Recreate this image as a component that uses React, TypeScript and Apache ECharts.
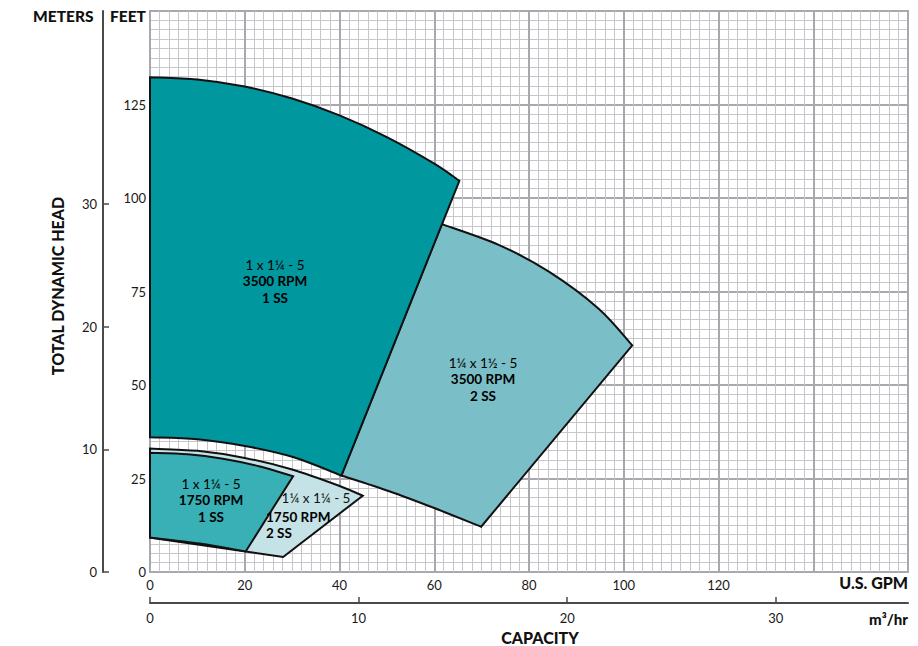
import React, { useEffect, useRef } from "react";
import * as echarts from "echarts";

// ---- Data (U.S. GPM, feet) ----
const gpmTicks = [0, 20, 40, 60, 80, 100, 120];
const feetTicks = [0, 25, 50, 75, 100, 125];
const meterTicks = [0, 10, 20, 30];
const m3hTicks = [0, 10, 20, 30];

// 1 x 1¼ - 5, 3500 RPM, 1 SS
const r1Top = [[0, 132.3], [10, 131.7], [20, 129.8], [30, 126.6], [40, 122.1], [50, 116.3], [60, 109.2], [65.3, 104.6]];
const r1Bottom = [[0, 36.0], [10, 35.5], [20, 33.7], [30, 30.8], [40.4, 25.8]];
// 1¼ x 1½ - 5, 3500 RPM, 2 SS
const r2Top = [[61.6, 93.0], [73.7, 87.4], [84.2, 80.3], [94.7, 70.4], [101.8, 60.6]];
const r2Bottom = [[40.4, 25.8], [50.5, 21.6], [60, 17.1], [69.9, 12.1]];
// 1¼ x 1¼ - 5, 1750 RPM, 2 SS
const r4Top = [[0, 33.0], [10, 32.4], [20, 30.5], [30, 27.4], [40, 23.0], [44.9, 20.4]];
const r4Bottom = [[44.9, 20.4], [28.1, 4.0], [20.2, 5.5], [0, 9.2]];
// 1 x 1¼ - 5, 1750 RPM, 1 SS
const r3Top = [[0, 31.9], [8, 31.5], [15.4, 30.3], [23, 28.3], [30.2, 25.6]];
const r3Bottom = [[0, 9.2], [10.5, 7.6], [20.2, 5.5]];

const GPM_PER_M3H = 4.40287;
const FT_PER_M = 3.28084;
const GPM_MAX = 160;
const FT_MAX = 150;

const FONT = "Lato, 'Open Sans', sans-serif";

type Seg = { pts: number[][]; curve: boolean };

function catmull(p: number[][]): string {
  let d = "";
  for (let i = 0; i < p.length - 1; i++) {
    const p0 = p[i - 1] || p[i];
    const p1 = p[i];
    const p2 = p[i + 1];
    const p3 = p[i + 2] || p[i + 1];
    const c1x = p1[0] + (p2[0] - p0[0]) / 6;
    const c1y = p1[1] + (p2[1] - p0[1]) / 6;
    const c2x = p2[0] - (p3[0] - p1[0]) / 6;
    const c2y = p2[1] - (p3[1] - p1[1]) / 6;
    d += ` C${c1x},${c1y} ${c2x},${c2y} ${p2[0]},${p2[1]}`;
  }
  return d;
}

function buildPath(segs: Seg[], api: any): string {
  let d = "";
  segs.forEach((s, idx) => {
    const px = s.pts.map((p) => api.coord(p));
    if (idx === 0) d += `M${px[0][0]},${px[0][1]}`;
    else d += ` L${px[0][0]},${px[0][1]}`;
    if (s.curve) d += catmull(px);
    else for (let i = 1; i < px.length; i++) d += ` L${px[i][0]},${px[i][1]}`;
  });
  return d + " Z";
}

const rev = (a: number[][]) => a.slice().reverse();

function regionSeries(name: string, segs: Seg[], fill: string, z: number) {
  return {
    type: "custom",
    name,
    xAxisIndex: 0,
    yAxisIndex: 0,
    z,
    silent: true,
    data: [[0, 0]],
    renderItem: (_params: any, api: any) => ({
      type: "path",
      shape: { pathData: buildPath(segs, api) },
      style: { fill, stroke: "#111", lineWidth: 2, lineJoin: "miter" },
    }),
  };
}

function txt(x: number, y: number, text: string, opts: any = {}) {
  return {
    type: "text",
    x,
    y,
    rotation: opts.rotation || 0,
    z: 100,
    silent: true,
    style: {
      text,
      fill: "#111",
      font: `${opts.weight || "normal"} ${opts.size || 14}px ${FONT}`,
      textAlign: opts.align || "center",
      textVerticalAlign: "middle",
    },
  };
}

const rich = {
  a: { fontFamily: FONT, fontSize: 13.5, fontWeight: "normal", color: "#111", lineHeight: 16.5 },
  b: { fontFamily: FONT, fontSize: 13.5, fontWeight: "bold", color: "#111", lineHeight: 16.5 },
};

function block(x: number, y: number, text: string, align = "center") {
  return {
    type: "text",
    x,
    y,
    z: 100,
    silent: true,
    style: {
      text,
      rich,
      textAlign: align,
      textVerticalAlign: "middle",
    },
  };
}

export default function App() {
  const ref = useRef<HTMLDivElement>(null);
  useEffect(() => {
    if (!ref.current) return;
    const chart = echarts.init(ref.current, undefined, { renderer: "svg" });
    const majorLine = { show: true, lineStyle: { color: "#a8a8ae", width: 2 } };
    const minorLine = { show: true, lineStyle: { color: "#c6c6cb", width: 1 } };
    const label = { fontFamily: FONT, fontSize: 13, color: "#1a1a1a" };
    chart.setOption({
      animation: false,
      backgroundColor: "#fff",
      grid: {
        left: 150,
        top: 11,
        right: 10,
        bottom: 74,
        show: true,
        borderColor: "#a8a8ae",
        borderWidth: 2,
        backgroundColor: "#fff",
      },
      xAxis: [
        {
          type: "value",
          min: 0,
          max: GPM_MAX,
          interval: 20,
          position: "bottom",
          axisLine: { show: false },
          axisTick: { show: false },
          axisLabel: {
            ...label,
            margin: 6,
            customValues: gpmTicks,
            formatter: (v: number) => (gpmTicks.includes(v) ? String(v) : ""),
          },
          splitLine: majorLine,
          minorTick: { show: false, splitNumber: 10 },
          minorSplitLine: minorLine,
        },
        {
          type: "value",
          min: 0,
          max: GPM_MAX / GPM_PER_M3H,
          interval: 10,
          position: "bottom",
          offset: 31,
          axisLine: { show: true, onZero: false, lineStyle: { color: "#4a4a4a", width: 2 } },
          axisTick: { show: true, inside: true, length: 6, customValues: m3hTicks, lineStyle: { color: "#4a4a4a", width: 1.5 } },
          axisLabel: {
            ...label,
            margin: 8,
            customValues: m3hTicks,
            formatter: (v: number) => (m3hTicks.includes(v) ? String(v) : ""),
          },
          splitLine: { show: false },
        },
      ],
      yAxis: [
        {
          type: "value",
          min: 0,
          max: FT_MAX,
          interval: 25,
          position: "left",
          axisLine: { show: false },
          axisTick: { show: false },
          axisLabel: {
            ...label,
            margin: 4,
            customValues: feetTicks,
            formatter: (v: number) => (feetTicks.includes(v) ? String(v) : ""),
          },
          splitLine: majorLine,
          minorTick: { show: false, splitNumber: 10 },
          minorSplitLine: minorLine,
        },
        {
          type: "value",
          min: 0,
          max: FT_MAX / FT_PER_M,
          interval: 10,
          position: "left",
          offset: 47,
          axisLine: { show: true, onZero: false, lineStyle: { color: "#4a4a4a", width: 2 } },
          axisTick: { show: true, inside: true, length: 6, customValues: meterTicks, lineStyle: { color: "#4a4a4a", width: 1.5 } },
          axisLabel: {
            ...label,
            margin: 6,
            customValues: meterTicks,
            formatter: (v: number) => (meterTicks.includes(v) ? String(v) : ""),
          },
          splitLine: { show: false },
        },
      ],
      series: [
        regionSeries(
          "1¼ x 1½ - 5 3500 RPM 2 SS",
          [
            { pts: r2Top, curve: true },
            { pts: rev(r2Bottom), curve: true },
          ],
          "#7abec7",
          2
        ),
        regionSeries(
          "1 x 1¼ - 5 3500 RPM 1 SS",
          [
            { pts: r1Top, curve: true },
            { pts: rev(r1Bottom), curve: true },
          ],
          "#00979f",
          3
        ),
        regionSeries(
          "1¼ x 1¼ - 5 1750 RPM 2 SS",
          [
            { pts: r4Top, curve: true },
            { pts: r4Bottom, curve: false },
          ],
          "#c5e3e6",
          4
        ),
        regionSeries(
          "1 x 1¼ - 5 1750 RPM 1 SS",
          [
            { pts: r3Top, curve: true },
            { pts: rev(r3Bottom), curve: true },
          ],
          "#38b0b5",
          5
        ),
      ],
      graphic: [
        txt(33, 16, "METERS", { weight: 900, size: 15.5, align: "left" }),
        txt(110, 16, "FEET", { weight: 900, size: 15.5, align: "left" }),
        txt(57, 286, "TOTAL DYNAMIC HEAD", { weight: 900, size: 16, rotation: Math.PI / 2 }),
        txt(540, 637, "CAPACITY", { weight: 900, size: 16 }),
        txt(908, 582, "U.S. GPM", { weight: 900, size: 16, align: "right" }),
        txt(908, 619, "m³/hr", { weight: 900, size: 15, align: "right" }),
        block(275, 281, "{a|1 x 1¼ - 5}\n{b|3500 RPM}\n{b|1 SS}"),
        block(483, 379, "{a|1¼ x 1½ - 5}\n{b|3500 RPM}\n{b|2 SS}"),
        block(211, 500, "{a|1 x 1¼ - 5}\n{b|1750 RPM}\n{b|1 SS}"),
        txt(316, 498, "1¼ x 1¼ - 5", { size: 13.5 }),
        block(266, 525, "{b|1750 RPM}\n{b|2 SS}", "left"),
      ],
    });
    return () => chart.dispose();
  }, []);
  return (
    <div
      ref={ref}
      style={{ position: "fixed", left: 0, top: 0, width: 918, height: 646, background: "#fff" }}
    />
  );
}
